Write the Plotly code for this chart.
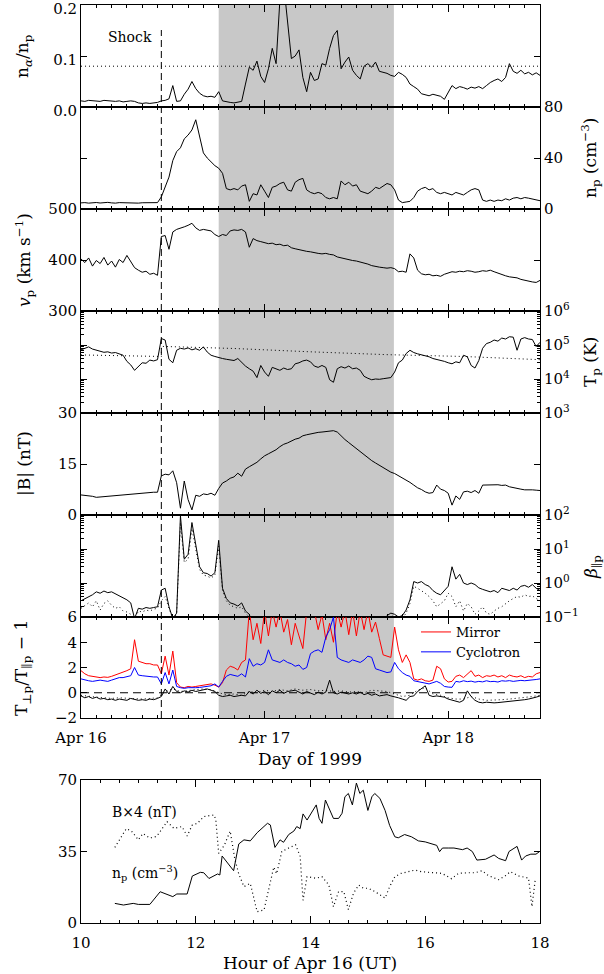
import plotly.graph_objects as go

W, H = 604, 974
FONT = "DejaVu Serif"

# ---------------- time axis: hours after 1999-04-16 00:00 UT ----------------
hours = [0.5 * i for i in range(121)]
day_ticks = [0, 24, 48]
day_labels = ["Apr 16", "Apr 17", "Apr 18"]
shock_hour = 10.5
cloud_start, cloud_end = 18.0, 40.9

# alpha-to-proton density ratio
na_np = [
    0.012, 0.011, 0.013, 0.012, 0.012, 0.011, 0.013, 0.012, 0.012, 0.011, 0.012, 0.010,
    0.011, 0.012, 0.011, 0.008, 0.007, 0.008, 0.007, 0.008, 0.009, 0.012, 0.013, 0.016,
    0.042, 0.011, 0.012, 0.025, 0.035, 0.050, 0.036, 0.027, 0.022, 0.020, 0.021, 0.019,
    0.030, 0.012, 0.010, 0.009, 0.008, 0.009, 0.011, 0.045, 0.078, 0.072, 0.090, 0.060,
    0.048, 0.075, 0.115, 0.085, 0.210, 0.240, 0.160, 0.095, 0.100, 0.112, 0.058, 0.030,
    0.068, 0.052, 0.055, 0.085, 0.082, 0.115, 0.140, 0.150, 0.075, 0.088, 0.098, 0.072,
    0.062, 0.055, 0.080, 0.085, 0.078, 0.088, 0.070, 0.068, 0.066, 0.062, 0.060, 0.068,
    0.064, 0.058, 0.045, 0.040, 0.035, 0.026, 0.024, 0.022, 0.025, 0.023, 0.021, 0.015,
    0.028, 0.042, 0.036, 0.040, 0.038, 0.035, 0.039, 0.037, 0.040, 0.036, 0.042, 0.048,
    0.052, 0.055, 0.050, 0.058, 0.085, 0.070, 0.066, 0.072, 0.065, 0.068, 0.063, 0.067,
    0.062,
]
alpha_ref = 0.08

# proton density (cm^-3)
np_density = [
    4.8, 5.0, 4.6, 4.9, 5.1, 4.7, 4.9, 5.2, 4.8, 4.6, 5.0, 4.9,
    4.7, 5.1, 4.8, 4.6, 4.9, 5.0, 4.7, 4.8, 5.0, 9.5, 18, 25,
    38, 45, 48, 55, 58, 62, 70, 57, 44, 40, 37, 34,
    32, 28, 16, 15, 16, 15, 18, 19, 6, 12, 11, 19,
    14, 9, 17, 18, 20, 21, 15, 14, 21, 23, 24, 15,
    13, 12, 13, 12, 9, 8, 9, 8, 22, 19, 21, 18,
    19, 14, 13, 12, 14, 17, 16, 18, 20, 19, 15, 7,
    5, 5.5, 6, 9, 14, 16, 17, 15, 16, 13, 12, 13,
    12, 11, 13, 12, 11, 13, 15, 16, 15, 7, 6, 7,
    6, 7, 6.5, 8, 7, 8.5, 9, 8, 9, 8.5, 8, 7,
    6.5,
]

# proton bulk speed (km/s)
vp = [
    402, 395, 404, 388, 399, 393, 405, 390, 398, 386, 401, 395,
    409, 396, 385, 380, 376, 378, 372, 374, 370, 446, 448, 421,
    455, 460, 462, 465, 468, 472, 463, 458, 460, 459, 457, 450,
    446, 450, 448, 457, 459, 458, 460, 455, 425, 442, 438, 436,
    434, 432, 433, 430, 431, 428, 429, 424, 422, 420, 419, 417,
    416, 414, 413, 412, 413, 411, 410, 406, 404, 402, 401, 399,
    398, 396, 395, 392, 389, 387, 386, 385, 384, 385, 383, 377,
    378, 376, 412, 404, 380, 373, 371, 372, 369, 370, 368, 372,
    375, 377, 376, 378, 377, 379, 378, 376, 377, 379, 378, 380,
    377, 374, 372, 369, 367, 366, 365, 362, 360, 358, 357, 356,
    360,
]

# proton temperature (K)
tp = [
    72000, 80000, 88000, 76000, 70000, 66000, 61000, 63000, 58000, 60000, 55000, 50000,
    33000, 26000, 18000, 24000, 30000, 29000, 36000, 34000, 37000, 155000, 140000, 38000,
    30000, 70000, 80000, 76000, 82000, 72000, 78000, 70000, 88000, 62000, 50000, 46000,
    42000, 40000, 38000, 37000, 35000, 40000, 30000, 24000, 20000, 17000, 11000, 25000,
    16000, 12000, 22000, 20000, 18000, 21000, 19000, 20000, 28000, 30000, 34000, 36000,
    32000, 24000, 22000, 25000, 22000, 9500, 8000, 20000, 23000, 21000, 24000, 20000,
    21000, 18000, 12000, 10500, 9500, 10000, 9800, 10200, 10500, 11000, 16000, 30000,
    36000, 56000, 70000, 60000, 55000, 52000, 48000, 45000, 40000, 38000, 36000, 33000,
    30000, 28000, 32000, 30000, 50000, 45000, 25000, 21000, 35000, 80000, 110000, 120000,
    140000, 130000, 160000, 150000, 175000, 170000, 70000, 150000, 165000, 150000, 145000, 90000,
    120000,
]
# expected temperature from the speed-temperature relation
tp_exp_hours = [0, 10.5, 10.5, 20, 30, 40, 50, 60]
tp_exp = [51000, 46000, 91000, 79000, 63000, 52000, 46000, 37000]

# magnetic field magnitude (nT)
bmag = [
    5.9, 5.8, 5.6, 5.5, 5.2, 5.3, 5.4, 5.5, 5.6, 5.7, 5.9, 6.0,
    6.1, 6.3, 6.4, 6.4, 6.5, 6.6, 6.6, 6.7, 6.7, 11.5, 12.0, 11.8,
    13.0, 9.5, 2.0, 10.0, 4.5, 1.5, 5.8, 5.5, 6.2, 6.0, 6.4, 5.8,
    7.8, 9.4, 10.0, 10.8, 11.2, 12.3, 11.4, 13.5, 14.2, 14.8, 15.5, 16.5,
    17.4, 18.0, 18.6, 19.2, 20.1, 20.8, 21.2, 21.8, 22.3, 22.6, 23.3, 23.6,
    23.9, 24.1, 24.3, 24.4, 24.6, 24.7, 24.8, 24.4, 23.2, 22.2, 21.3, 20.4,
    19.4, 18.5, 17.6, 16.9, 16.0, 15.3, 14.6, 13.9, 13.2, 12.6, 12.2, 11.6,
    11.0, 10.3, 9.6, 8.8, 8.0, 7.5, 6.8, 6.4, 6.6, 8.8, 7.6, 7.2,
    6.4, 2.9, 5.6, 4.6, 6.8, 7.0, 6.6, 7.2, 6.4, 8.8, 8.8, 9.0,
    8.8, 8.9, 8.7, 8.8, 8.3, 8.0, 7.8, 7.6, 7.4, 7.5, 7.4, 7.3,
    7.2,
]

# parallel proton beta (solid) and its companion estimate (dotted)
beta_par = [
    0.30, 0.34, 0.38, 0.45, 0.55, 0.50, 0.58, 0.52, 0.55, 0.48, 0.42, 0.38,
    0.32, 0.26, 0.09, 0.18, 0.17, 0.19, 0.18, 0.19, 0.20, 0.62, 0.70, 0.20,
    0.09, 0.13, 95, 5, 7, 60, 12, 3.0, 2.0, 1.9, 1.6, 2.0,
    18, 0.7, 0.35, 0.26, 0.24, 0.21, 0.26, 0.15, 0.12, 0.05, 0.05, 0.05,
    0.05, 0.05, 0.05, 0.05, 0.05, 0.05, 0.05, 0.05, 0.05, 0.05, 0.05, 0.05,
    0.05, 0.05, 0.05, 0.05, 0.05, 0.05, 0.05, 0.05, 0.05, 0.05, 0.05, 0.05,
    0.05, 0.05, 0.05, 0.05, 0.05, 0.05, 0.05, 0.05, 0.11, 0.13, 0.12, 0.10,
    0.11, 0.16, 0.32, 1.1, 1.0, 1.1, 0.9, 0.8, 0.6, 0.5, 0.45, 0.6,
    0.8, 3.0, 1.3, 1.8, 1.0, 0.9, 1.0, 0.9, 0.72, 0.65, 0.6, 0.55,
    0.6, 0.52, 0.7, 0.65, 0.6, 0.7, 0.62, 0.8, 0.85, 0.75, 0.9, 0.7,
    0.6,
]
beta_alt = [
    0.18, 0.22, 0.26, 0.20, 0.30, 0.16, 0.25, 0.30, 0.22, 0.18, 0.20, 0.15,
    0.14, 0.12, 0.08, 0.15, 0.14, 0.16, 0.15, 0.17, 0.18, 0.30, 0.40, 0.18,
    0.09, 0.12, 60, 4, 5, 40, 9, 2.5, 1.7, 1.6, 1.4, 1.7,
    12, 0.6, 0.30, 0.22, 0.20, 0.18, 0.20, 0.13, 0.10, 0.05, 0.05, 0.05,
    0.05, 0.05, 0.05, 0.05, 0.05, 0.05, 0.05, 0.05, 0.05, 0.05, 0.05, 0.05,
    0.05, 0.05, 0.05, 0.05, 0.05, 0.05, 0.05, 0.05, 0.05, 0.05, 0.05, 0.05,
    0.05, 0.05, 0.05, 0.05, 0.05, 0.05, 0.05, 0.05, 0.09, 0.11, 0.10, 0.08,
    0.09, 0.13, 0.25, 0.8, 0.7, 0.6, 0.5, 0.4, 0.3, 0.2, 0.25, 0.3,
    0.5, 0.4, 0.2, 0.3, 0.15, 0.25, 0.2, 0.12, 0.15, 0.2, 0.13, 0.12,
    0.15, 0.18, 0.2, 0.25, 0.3, 0.35, 0.4, 0.38, 0.45, 0.4, 0.42, 0.35,
    0.3,
]

# temperature anisotropy: instability thresholds and observed value
mirror = [
    1.75, 1.5, 1.35, 1.3, 1.25, 1.2, 1.25, 1.22, 1.3, 1.4, 1.5, 1.6,
    1.75, 1.9, 4.2, 2.5, 2.4, 2.3, 2.3, 2.2, 2.2, 1.5, 2.9, 1.4,
    3.3, 0.8, 0.45, 0.4, 0.5, 0.45, 0.5, 0.55, 0.6, 0.65, 0.7, 0.6,
    0.45, 0.8, 1.8, 2.1, 2.0, 1.8, 2.4, 2.6, 6.5, 4.2, 5.5, 3.9,
    6.5, 4.5, 6.5, 5.2, 6.5, 4.8, 5.8, 3.8, 5.5, 4.5, 3.5, 6.5,
    6.5, 6.5, 5.0, 6.2, 4.2, 5.5, 4.0, 6.5, 5.2, 6.5, 4.6, 6.5,
    4.5, 6.5, 5.0, 6.5, 4.8, 5.6, 4.3, 3.0, 2.9, 2.8, 5.2, 3.4,
    2.4, 3.0, 2.4, 1.1, 1.0, 1.1, 0.95, 0.9, 1.0, 2.1, 1.9, 1.1,
    0.85, 0.9, 1.3, 1.4, 1.2, 1.5, 1.75, 1.3, 1.4, 1.2, 1.35, 1.3,
    1.4, 1.25, 1.35, 1.2, 1.4, 1.3, 1.25, 1.35, 1.2, 1.3, 1.25, 1.5,
    1.6,
]
cyclotron = [
    1.1, 1.0, 0.95, 0.9, 0.95, 1.0, 0.95, 0.9, 1.0, 1.1, 1.2, 1.2,
    1.3, 1.35, 2.0, 1.4, 1.35, 1.3, 1.3, 1.25, 1.25, 0.7, 1.6, 0.7,
    1.8, 0.5, 0.4, 0.35, 0.4, 0.38, 0.4, 0.42, 0.45, 0.5, 0.55, 0.7,
    0.45, 0.9, 1.3, 1.45, 1.4, 1.3, 1.5, 1.25, 2.7, 2.1, 2.3, 2.2,
    2.4, 3.4, 2.6, 2.5, 2.4, 2.6, 2.4, 2.3, 2.1, 2.2, 1.85, 2.0,
    3.1, 3.3, 3.4, 3.2, 4.4, 5.0, 6.0, 2.8, 2.6, 2.5, 2.4, 2.6,
    2.5, 2.4, 2.6, 2.9, 2.8, 1.9, 1.8, 1.7, 1.6, 1.65, 2.4, 1.9,
    1.6, 1.4, 1.3, 0.95, 0.9, 0.8, 0.75, 0.7, 0.8, 0.9, 0.75, 0.5,
    0.45, 0.43, 0.9, 0.85, 0.95, 0.88, 0.92, 0.84, 0.9, 0.86, 0.95, 0.88,
    0.9, 0.85, 0.95, 0.92, 0.96, 0.9, 0.94, 0.98, 0.95, 0.97, 1.0, 1.05,
    1.1,
]
anisotropy = [
    -0.25, -0.4, -0.3, -0.45, -0.35, -0.5, -0.45, -0.55, -0.5, -0.6, -0.5, -0.55,
    -0.6, -0.45, -0.5, -0.6, -0.55, -0.6, -0.5, -0.55, -0.45, -0.3, 0.3, -0.1,
    0.5, 0.1, 0.0, 0.15, 0.05, 0.2, 0.1, 0.15, 0.2, 0.3, 0.2, 0.1,
    -0.2, -0.3, -0.25, -0.2, -0.3, -0.25, -0.2, -0.25, 0.1, -0.1, 0.2, -0.05,
    0.1, -0.15, 0.15, 0.0, 0.2, -0.05, 0.1, 0.15, 0.2, 0.05, -0.1, 0.1,
    0.0, -0.15, 0.05, -0.1, 0.05, 1.0, 0.0, -0.1, 0.05, -0.05, -0.1, 0.0,
    -0.1, 0.05, -0.15, -0.05, -0.2, -0.1, -0.25, -0.2, -0.15, -0.25, -0.3, -0.4,
    -0.5, -0.6, -0.3, -0.25, 0.1, 0.3, 0.55, -0.2, -0.3, -0.25, -0.3, -0.35,
    -0.5, -0.6, -0.7, -0.75, -0.6, 0.15, -0.3, -0.6, -0.75, -0.8, -0.75, -0.78,
    -0.8, -0.78, -0.75, -0.72, -0.7, -0.65, -0.6, -0.62, -0.55, -0.5, -0.45, -0.35,
    -0.25,
]
hours_hourly = list(range(61))
anisotropy_alt = [
    -0.2, -0.3, -0.35, -0.4, -0.45, -0.4, -0.45, -0.5, -0.5, -0.45, -0.4, 0.1,
    0.3, 0.1, 0.2, 0.25, 0.3, 0.25, 0.0, -0.15, -0.1, -0.2, 0.1, 0.0,
    0.2, 0.1, 0.25, 0.15, 0.3, 0.2, 0.25, 0.15, 0.2, 0.1, 0.15, 0.05,
    0.1, 0.0, 0.2, 0.15, 0.1, -0.1, -0.3, -0.2, 0.2, 0.4, -0.1, -0.2,
    -0.4, -0.5, -0.5, -0.3, -0.5, -0.6, -0.6, -0.55, -0.5, -0.45, -0.4, -0.3,
    -0.2,
]

# ---------------- close-up of the sheath, Apr 16 10-18 UT ----------------
zoom_np_hours = [10.59, 10.74, 10.91, 11.0, 11.2, 11.38, 11.6, 11.67, 11.85, 11.94,
                 12.08, 12.14, 12.23, 12.38, 12.42, 12.46, 12.66, 12.75, 12.84, 12.95,
                 13.07, 13.25, 13.3, 13.38, 13.47, 13.53, 13.62, 13.71, 13.76, 13.82,
                 13.87, 13.94, 14.1, 14.15, 14.2, 14.26, 14.4, 14.49, 14.55, 14.6,
                 14.66, 14.73, 14.8, 14.86, 14.92, 15.0, 15.07, 15.12, 15.21, 15.3,
                 15.38, 15.47, 15.53, 15.64, 15.76, 15.88, 16.0, 16.1, 16.2, 16.25,
                 16.3, 16.4, 16.5, 16.65, 16.73, 16.82, 16.9, 17.05, 17.2, 17.28,
                 17.4, 17.46, 17.6, 17.68, 17.75, 17.84, 17.93, 17.99]
zoom_np = [9.6, 8.8, 9.6, 9.1, 9.1, 15.3, 12.9, 14.2, 14.2, 23.0,
           24.8, 24.6, 21.8, 24.0, 23.5, 32.8, 25.6, 38.7, 40.7, 40.2,
           44.2, 48.8, 48.0, 37.0, 40.7, 39.5, 43.3, 45.0, 47.2, 46.2,
           53.4, 50.4, 57.8, 51.2, 48.8, 60.2, 51.2, 51.2, 53.7, 61.8,
           63.4, 57.8, 68.5, 63.4, 65.0, 55.1, 61.8, 63.4, 61.0, 55.1,
           47.7, 42.2, 41.7, 43.3, 42.2, 40.2, 39.7, 38.8, 38.0, 34.9,
           36.7, 36.7, 36.7, 35.9, 36.7, 35.0, 30.8, 31.2, 33.3, 31.6,
           30.5, 35.0, 37.5, 30.8, 32.8, 33.7, 33.7, 34.9]
zoom_b4_hours = [10.59, 10.7, 10.79, 10.88, 11.0, 11.08, 11.2, 11.32, 11.5, 11.62,
                 11.76, 11.85, 11.94, 12.03, 12.14, 12.32, 12.35, 12.4, 12.5, 12.6,
                 12.68, 12.75, 12.84, 12.95, 13.07, 13.19, 13.3, 13.36, 13.41, 13.5,
                 13.62, 13.74, 13.82, 13.87, 13.94, 14.1, 14.2, 14.32, 14.4, 14.49,
                 14.58, 14.66, 14.75, 14.84, 14.92, 15.01, 15.12, 15.24, 15.3, 15.38,
                 15.47, 15.58, 15.7, 15.82, 15.94, 16.1, 16.29, 16.46, 16.58, 16.76,
                 16.87, 16.99, 17.1, 17.28, 17.4, 17.48, 17.63, 17.8, 17.86, 17.92]
zoom_b4 = [37.0, 42.2, 46.2, 45.0, 40.7, 43.8, 41.6, 42.4, 49.6, 46.3,
           47.2, 42.6, 48.0, 48.8, 52.1, 52.9, 50.4, 34.1, 38.2, 45.0,
           31.5, 24.0, 17.8, 19.4, 5.5, 6.4, 20.9, 27.4, 24.1, 35.0,
           36.7, 38.3, 32.6, 11.1, 22.7, 21.9, 22.7, 18.6, 8.0, 15.4,
           15.4, 6.6, 14.6, 18.6, 17.0, 17.0, 15.4, 13.0, 12.2, 17.8,
           22.7, 24.3, 25.1, 25.9, 25.1, 24.8, 24.3, 21.7, 24.3, 24.6,
           24.6, 25.6, 23.2, 21.2, 23.2, 25.1, 23.0, 22.0, 8.0, 22.0]

# ---------------- layout geometry (pixels from the top of the page) ----------------
X0, X1 = 81, 540
panel_px = [(5, 107), (107, 209), (209, 311), (311, 413), (413, 515), (515, 617), (617, 718)]
zoom_px = (780, 923)
DOT = "1px,3px"


def ydom(top, bot):
    return [1 - bot / H, 1 - top / H]


def py(p):
    return 1 - p / H


def px(p):
    return p / W


AX = dict(showline=True, linecolor="black", linewidth=1, mirror="ticks",
          ticks="inside", tickcolor="black", tickwidth=1, showgrid=False,
          zeroline=False, automargin=False, ticklabeloverflow="allow",
          tickfont=dict(family=FONT, size=15, color="black"))

fig = go.Figure()


def line(x, y, k, color="black", dash=None, width=1, name=None, legend=False):
    fig.add_trace(go.Scatter(x=x, y=y, xaxis=f"x{k}", yaxis=f"y{k}", mode="lines",
                             line=dict(color=color, width=width, dash=dash),
                             name=name, showlegend=legend, hoverinfo="skip"))


line([0, 60], [alpha_ref, alpha_ref], 1, dash=DOT)
line(hours, na_np, 1)
line(hours, np_density, 2)
line(hours, vp, 3)
line(tp_exp_hours, tp_exp, 4, dash=DOT)
line(hours, tp, 4)
line(hours, bmag, 5)
line(hours, beta_alt, 6, dash=DOT)
line(hours, beta_par, 6)
line(hours, mirror, 7, color="#ff0000", name="Mirror", legend=True)
line(hours, cyclotron, 7, color="#0000ff", name="Cyclotron", legend=True)
line([0, 60], [0, 0], 7, dash="8px,5px")
line(hours_hourly, anisotropy_alt, 7, dash=DOT)
line(hours, anisotropy, 7)
line(zoom_b4_hours, zoom_b4, 8, dash=DOT, width=1.2)
line(zoom_np_hours, zoom_np, 8)

# --- axes ---
layout = {}
ylin = [
    dict(range=[0, 0.2], tickvals=[0, 0.1, 0.2], ticktext=["0.0", "0.1", "0.2"], side="left",
         ticklabelshift=4),
    dict(range=[0, 80], tickvals=[0, 40, 80], side="right"),
    dict(range=[300, 500], tickvals=[300, 400, 500], side="left"),
    dict(type="log", range=[3, 6], tickvals=[1e3, 1e4, 1e5, 1e6],
         ticktext=["10<sup>3</sup>", "10<sup>4</sup>", "10<sup>5</sup>", "10<sup>6</sup>"], side="right",
         minor=dict(ticks="inside", ticklen=3, tickcolor="black",
                    tickvals=[m * 10 ** d for d in (3, 4, 5) for m in range(2, 10)])),
    dict(range=[0, 30], tickvals=[0, 15, 30], side="left"),
    dict(type="log", range=[-1, 2], tickvals=[0.1, 1, 10, 100],
         ticktext=["10<sup>−1</sup>", "10<sup>0</sup>", "10<sup>1</sup>", "10<sup>2</sup>"], side="right",
         minor=dict(ticks="inside", ticklen=3, tickcolor="black",
                    tickvals=[m * 10 ** d for d in (-1, 0, 1) for m in range(2, 10)])),
    dict(range=[-2, 6], tickvals=[-2, 0, 2, 4, 6], ticktext=["−2", "0", "2", "4", "6"], side="left"),
]
for k in range(1, 8):
    top, bot = panel_px[k - 1]
    layout[f"xaxis{k}"] = dict(AX, domain=[px(X0), px(X1)], range=[0, 60], anchor=f"y{k}",
                               tickvals=day_ticks, ticktext=day_labels, ticklen=7,
                               showticklabels=(k == 7), ticklabelstandoff=6,
                               minor=dict(ticks="inside", ticklen=3, tickcolor="black",
                                          tickmode="linear", tick0=0, dtick=2))
    layout[f"yaxis{k}"] = dict(AX, domain=ydom(top, bot), anchor=f"x{k}", ticklen=6, **ylin[k - 1])

layout["xaxis8"] = dict(AX, domain=[px(X0), px(X1)], range=[10, 18], anchor="y8",
                        tickvals=[10, 12, 14, 16, 18], ticklen=7, ticklabelstandoff=6,
                        minor=dict(ticks="inside", ticklen=3, tickcolor="black",
                                   tickmode="linear", tick0=10, dtick=1 / 3))
layout["yaxis8"] = dict(AX, domain=ydom(*zoom_px), anchor="x8", range=[0, 70],
                        tickvals=[0, 35, 70], ticklen=6, side="left")

fig.update_layout(**layout)

# --- shaded magnetic-cloud interval and shock marker ---
fig.add_shape(type="rect", xref="x", yref="paper", x0=cloud_start, x1=cloud_end,
              y0=py(panel_px[-1][1]), y1=py(panel_px[0][0]),
              fillcolor="#c8c8c8", line=dict(width=0), layer="below")
fig.add_shape(type="line", xref="x", yref="paper", x0=shock_hour, x1=shock_hour,
              y0=py(panel_px[-1][1]), y1=py(30),
              line=dict(color="black", width=1, dash="7px,4px"))


def note(text, x, y, size=17, angle=0, xanchor="center"):
    fig.add_annotation(text=text, x=px(x), y=py(y), xref="paper", yref="paper",
                       showarrow=False, textangle=angle, xanchor=xanchor, yanchor="middle",
                       font=dict(family=FONT, size=size, color="black"))


note("n<sub><i>α</i></sub>/n<sub>p</sub>", 24, 56, angle=-90)
note("n<sub>p</sub> (cm<sup>−3</sup>)", 590, 158, angle=-90)
note("<i>v</i><sub>p</sub> (km s<sup>−1</sup>)", 24, 260, angle=-90)
note("T<sub>p</sub> (K)", 591, 362, angle=-90)
note("|B| (nT)", 24, 464, angle=-90)
note("<i>β</i><sub>∥p</sub>", 592, 567, angle=-90)
note("T<sub>⊥p</sub>/T<sub>∥p</sub> − 1", 22, 668, angle=-90)
note("Shock", 130, 37, size=14)
note("Day of 1999", 310, 759)
note("Hour of Apr 16 (UT)", 310, 963)
note("B×4 (nT)", 110, 812, size=14, xanchor="left")
note("n<sub>p</sub> (cm<sup>−3</sup>)", 110, 873, size=14, xanchor="left")

fig.update_layout(
    width=W, height=H, margin=dict(l=0, r=0, t=0, b=0, autoexpand=False),
    paper_bgcolor="white", plot_bgcolor="rgba(0,0,0,0)",
    font=dict(family=FONT, size=15, color="black"),
    legend=dict(x=px(416), y=py(617), xanchor="left", yanchor="top",
                bgcolor="rgba(0,0,0,0)", font=dict(family=FONT, size=13, color="black"),
                tracegroupgap=0, itemwidth=30),
)

fig.write_html("out.html")
